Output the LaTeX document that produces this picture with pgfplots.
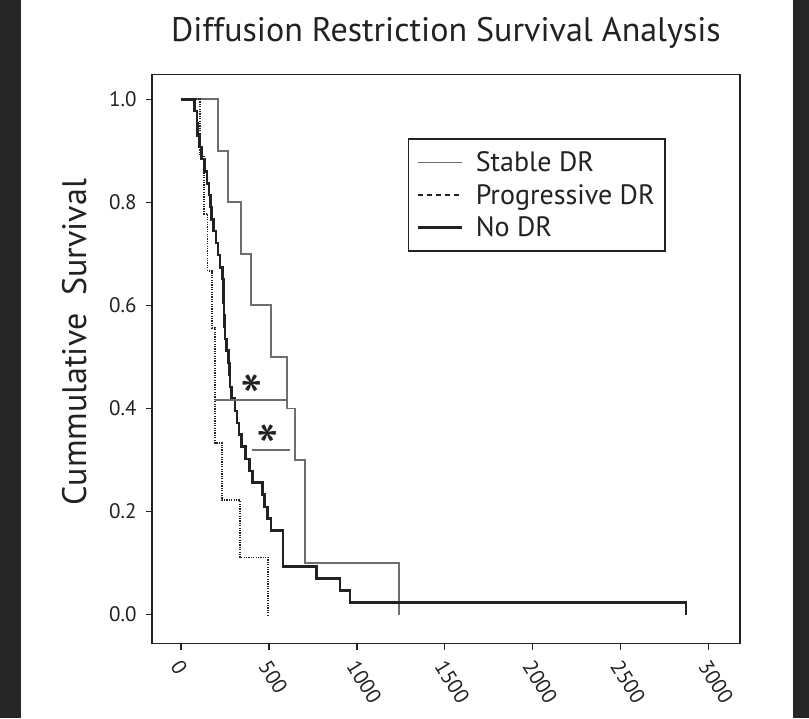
\documentclass[border=0pt]{standalone}
\usepackage{fontspec}
\setmainfont{PT Sans}
\usepackage{pgfplots}
\pgfplotsset{compat=1.18}
\definecolor{bgdark}{HTML}{262626}
\definecolor{stablegray}{HTML}{6E6E6E}
\definecolor{ink}{HTML}{222222}

\pgfplotstableread{
t s
0 1
210 0.9
267 0.8
341 0.7
398 0.6
512 0.5
603 0.4
648 0.3
705 0.1
1239 0
}\stabledr

\pgfplotstableread{
t s
0 1
110 0.889
130 0.778
150 0.667
175 0.556
193 0.333
233 0.222
335 0.111
495 0
}\progdr

\pgfplotstableread{
t s
0 1
78 0.977
90 0.953
95 0.930
104 0.907
118 0.884
133 0.860
147 0.837
158 0.814
167 0.791
173 0.767
185 0.744
198 0.721
210 0.698
222 0.674
235 0.651
241 0.628
243 0.605
245 0.581
247 0.558
249 0.535
257 0.512
269 0.488
274 0.465
279 0.442
286 0.419
307 0.395
319 0.372
330 0.349
344 0.326
368 0.302
390 0.279
405 0.256
464 0.233
475 0.209
490 0.186
512 0.163
580 0.093
771 0.070
904 0.047
961 0.023
2871 0
}\nodr

\begin{document}
\begin{tikzpicture}[x=1pt,y=1pt]
\fill[bgdark] (0,0) rectangle (809,718);
\fill[white] (21,0) rectangle (793,718);
\node[font=\fontsize{34}{40}\selectfont, text=ink] at (446,685) {Diffusion Restriction Survival Analysis};
\node[font=\fontsize{34}{40}\selectfont, rotate=90, text=ink] at (75,376) {Cummulative\ \ Survival};
\begin{axis}[
  at={(152pt,74.5pt)}, anchor=south west,
  scale only axis, width=588pt, height=569pt,
  xmin=-165, xmax=3178, ymin=-0.056, ymax=1.048,
  axis line style={line width=1.8pt, ink},
  xtick={0,500,1000,1500,2000,2500,3000},
  ytick={0,0.2,0.4,0.6,0.8,1},
  tick align=outside, xtick pos=bottom, ytick pos=left,
  major tick length=6pt,
  tick style={line width=1.2pt, ink},
  /pgf/number format/assume math mode=true,
  yticklabel style={font=\fontsize{21}{24}\selectfont, text=ink, xshift=-6pt,
    /pgf/number format/fixed, /pgf/number format/fixed zerofill,
    /pgf/number format/precision=1},
  xticklabel style={font=\fontsize{21}{24}\selectfont, text=ink,
    rotate=-58, anchor=west, xshift=5pt, yshift=-11pt, /pgf/number format/1000 sep={}},
  legend style={at={(0.435,0.888)}, anchor=north west,
    draw=ink, line width=1.6pt, font=\fontsize{28}{32}\selectfont,
    text=ink, inner xsep=8pt, inner ysep=11pt, row sep=7pt,
    /tikz/every odd column/.append style={column sep=11pt}},
  legend cell align=left,
  legend image code/.code={\draw[#1] (0pt,0pt) -- (44pt,0pt);},
]
\addplot[const plot, stablegray, line width=1.8pt, forget plot] table[x=t, y=s] {\stabledr};
\addplot[const plot, ink, line width=1.8pt, dash pattern=on 1.2pt off 1.2pt, forget plot] table[x=t, y=s] {\progdr};
\addplot[const plot, ink, line width=2.6pt, forget plot] table[x=t, y=s] {\nodr};
% median comparison brackets
\addplot[stablegray, line width=1.8pt, forget plot] coordinates {(193,0.416) (603,0.416)};
\addplot[stablegray, line width=1.8pt, forget plot] coordinates {(404,0.319) (620,0.319)};
\node[font=\fontsize{64}{64}\selectfont, text=ink] at (axis cs:404,0.421) {*};
\node[font=\fontsize{64}{64}\selectfont, text=ink] at (axis cs:493,0.325) {*};
\addlegendimage{stablegray, line width=1.4pt}
\addlegendentry{Stable DR}
\addlegendimage{ink, line width=1.4pt, dash pattern=on 5pt off 4pt}
\addlegendentry{Progressive DR}
\addlegendimage{ink, line width=2.2pt}
\addlegendentry{No DR}
\end{axis}
\end{tikzpicture}
\end{document}
